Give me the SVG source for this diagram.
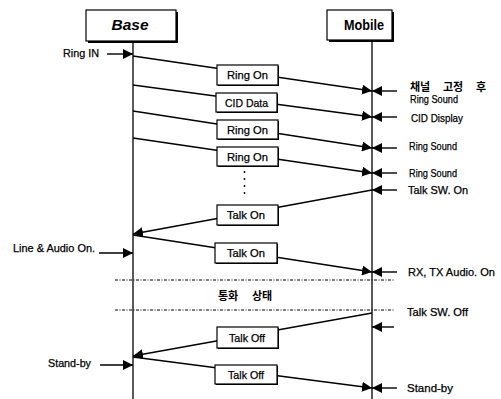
<svg xmlns="http://www.w3.org/2000/svg" width="501" height="399" viewBox="0 0 501 399">
<style>
text{stroke:#000;stroke-width:0.25}
.t{font-family:"Liberation Sans",Arial,sans-serif;font-size:11px;fill:#000}
.c{text-anchor:middle}
.k{font-family:"Noto Sans CJK KR",sans-serif;font-size:11px;font-weight:bold;fill:#000;stroke-width:0}
.ln{stroke:#000;stroke-width:1.3;fill:none}
.msg{stroke:#000;stroke-width:1.4;fill:none;marker-end:url(#ah)}
.bx{fill:#fff;stroke:#000;stroke-width:1.2}
.sh{fill:#000}
.dd{stroke:#000;stroke-width:1;stroke-dasharray:3 1.5 1 1.5;fill:none}
.hd{font-family:"Liberation Sans",Arial,sans-serif;font-weight:bold;font-size:14px;fill:#000;text-anchor:middle;stroke-width:0}
</style>
<defs>
<marker id="ah" markerUnits="userSpaceOnUse" markerWidth="11" markerHeight="10" refX="10" refY="5" orient="auto" viewBox="0 0 11 10">
<path d="M0,0 L10,5 L0,10 z" fill="#000"/>
</marker>
</defs>
<rect width="501" height="399" fill="#fff"/>
<g id="base">
<rect class="sh" x="88" y="12" width="90" height="31"/>
<rect class="bx" x="86" y="10" width="90" height="31"/>
<text class="hd" x="130" y="30" font-style="italic" textLength="37" lengthAdjust="spacingAndGlyphs">Base</text>
<line class="ln" x1="133" y1="43" x2="133" y2="399"/>
</g>
<g id="mobile">
<rect class="sh" x="329" y="12" width="65" height="30"/>
<rect class="bx" x="327" y="10" width="65" height="30"/>
<text class="hd" x="364" y="30" textLength="40" lengthAdjust="spacingAndGlyphs">Mobile</text>
<line class="ln" x1="372" y1="42" x2="372" y2="399"/>
</g>
<g id="connectors">
<line class="msg" x1="133" y1="56" x2="372" y2="91"/>
<line class="msg" x1="133" y1="85" x2="372" y2="117"/>
<line class="msg" x1="133" y1="111" x2="372" y2="148"/>
<line class="msg" x1="133" y1="138" x2="372" y2="173"/>
<line class="msg" x1="372" y1="190" x2="133" y2="234"/>
<line class="msg" x1="133" y1="235" x2="372" y2="272"/>
<line class="msg" x1="372" y1="313" x2="133" y2="356"/>
<line class="msg" x1="133" y1="357" x2="372" y2="388"/>
<line class="msg" x1="107" y1="54" x2="133" y2="54"/>
<line class="msg" x1="99" y1="253" x2="133" y2="253"/>
<line class="msg" x1="100" y1="365" x2="133" y2="365"/>
<line class="msg" x1="397" y1="91" x2="372" y2="91"/>
<line class="msg" x1="397" y1="117" x2="372" y2="117"/>
<line class="msg" x1="397" y1="148" x2="372" y2="148"/>
<line class="msg" x1="397" y1="173" x2="372" y2="173"/>
<line class="msg" x1="397" y1="190" x2="372" y2="190"/>
<line class="msg" x1="397" y1="272" x2="372" y2="272"/>
<line class="msg" x1="394" y1="327" x2="372" y2="327"/>
<line class="msg" x1="397" y1="388" x2="372" y2="388"/>
<line class="dd" x1="115" y1="280" x2="394" y2="280"/>
<line class="dd" x1="115" y1="310" x2="394" y2="310"/>
</g>
<g id="m1"><rect class="sh" x="218" y="66" width="61" height="20"/><rect class="bx" x="217" y="65" width="61" height="20"/><text class="t c" x="247.5" y="79" textLength="41" lengthAdjust="spacingAndGlyphs">Ring On</text></g>
<g id="m2"><rect class="sh" x="217" y="94" width="61" height="19"/><rect class="bx" x="216" y="93" width="61" height="19"/><text class="t c" x="246.5" y="106.5" textLength="43" lengthAdjust="spacingAndGlyphs">CID Data</text></g>
<g id="m3"><rect class="sh" x="218" y="121" width="61" height="19"/><rect class="bx" x="217" y="120" width="61" height="19"/><text class="t c" x="247.5" y="133.5" textLength="41" lengthAdjust="spacingAndGlyphs">Ring On</text></g>
<g id="m4"><rect class="sh" x="218" y="148" width="61" height="19"/><rect class="bx" x="217" y="147" width="61" height="19"/><text class="t c" x="247.5" y="160.5" textLength="41" lengthAdjust="spacingAndGlyphs">Ring On</text></g>
<g id="dots">
<circle cx="244.5" cy="172" r="0.9"/><circle cx="244.5" cy="179" r="0.9"/><circle cx="244.5" cy="186" r="0.9"/><circle cx="244.5" cy="193" r="0.9"/>
</g>
<g id="m5"><rect class="sh" x="218" y="206" width="61" height="20"/><rect class="bx" x="217" y="205" width="61" height="20"/><text class="t c" x="246" y="219" textLength="38" lengthAdjust="spacingAndGlyphs">Talk On</text></g>
<g id="m6"><rect class="sh" x="216" y="244" width="62" height="20"/><rect class="bx" x="215" y="243" width="62" height="20"/><text class="t c" x="246" y="257" textLength="38" lengthAdjust="spacingAndGlyphs">Talk On</text></g>
<g id="m7"><rect class="sh" x="218" y="328" width="61" height="21"/><rect class="bx" x="217" y="327" width="61" height="21"/><text class="t c" x="247" y="341.5" textLength="36" lengthAdjust="spacingAndGlyphs">Talk Off</text></g>
<g id="m8"><rect class="sh" x="216" y="366" width="62" height="19"/><rect class="bx" x="215" y="365" width="62" height="19"/><text class="t c" x="246" y="378.5" textLength="36" lengthAdjust="spacingAndGlyphs">Talk Off</text></g>
<g id="labels">
<text class="t" x="63" y="57" textLength="36" lengthAdjust="spacingAndGlyphs">Ring IN</text>
<text class="t" x="13" y="252" textLength="82" lengthAdjust="spacingAndGlyphs">Line &amp; Audio On.</text>
<text class="t" x="48" y="367" textLength="43" lengthAdjust="spacingAndGlyphs">Stand-by</text>
<text class="k" y="90.5"><tspan x="410">채널</tspan><tspan x="443">고정</tspan><tspan x="476">후</tspan></text>
<text class="t" x="410" y="102.5" textLength="48" lengthAdjust="spacingAndGlyphs">Ring Sound</text>
<text class="t" x="411" y="121.5" textLength="52" lengthAdjust="spacingAndGlyphs">CID Display</text>
<text class="t" x="409" y="150" textLength="48" lengthAdjust="spacingAndGlyphs">Ring Sound</text>
<text class="t" x="409" y="177" textLength="48" lengthAdjust="spacingAndGlyphs">Ring Sound</text>
<text class="t" x="408" y="194" textLength="60" lengthAdjust="spacingAndGlyphs">Talk SW. On</text>
<text class="t" x="408" y="276" textLength="87" lengthAdjust="spacingAndGlyphs">RX, TX Audio. On</text>
<text class="t" x="407" y="316" textLength="61" lengthAdjust="spacingAndGlyphs">Talk SW. Off</text>
<text class="t" x="407" y="392" textLength="46" lengthAdjust="spacingAndGlyphs">Stand-by</text>
<text class="k" y="299.5" font-size="12"><tspan x="218">통화</tspan><tspan x="252">상태</tspan></text>
</g>
</svg>
